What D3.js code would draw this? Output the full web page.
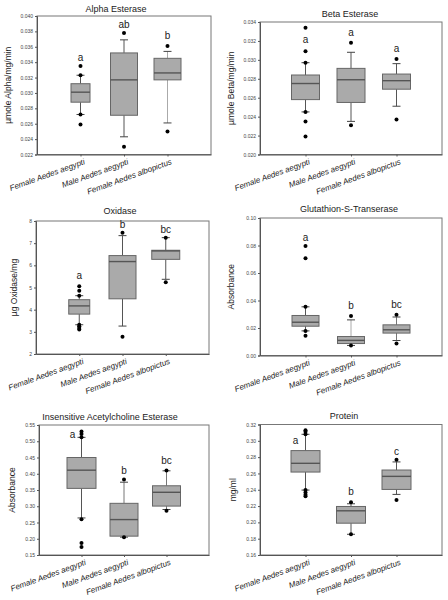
<!DOCTYPE html>
<html><head><meta charset="utf-8">
<script src="https://cdn.jsdelivr.net/npm/d3@7"></script>
<style>body{margin:0;background:#fff}svg{display:block}</style>
</head><body>
<svg id="c" width="448" height="600"></svg>
<script>
const categories = ["Female Aedes aegypti", "Male Aedes aegypti", "Female Aedes albopictus"];
const titles = ["Alpha Esterase", "Beta Esterase", "Oxidase", "Glutathion-S-Transerase", "Insensitive Acetylcholine Esterase", "Protein"];
const yLabels = ["µmole Alpha/mg/min", "µmole Beta/mg/min", "µg Oxidase/mg", "Absorbance", "Absorbance", "mg/ml"];

// y tick values per panel
const alphaTicks = [0.022, 0.024, 0.026, 0.028, 0.030, 0.032, 0.034, 0.036, 0.038, 0.040];
const betaTicks = [0.020, 0.022, 0.024, 0.026, 0.028, 0.030, 0.032, 0.034];
const oxidaseTicks = [2, 3, 4, 5, 6, 7, 8];
const gstTicks = [0.00, 0.02, 0.04, 0.06, 0.08, 0.10];
const acheTicks = [0.15, 0.20, 0.25, 0.30, 0.35, 0.40, 0.45, 0.50, 0.55];
const proteinTicks = [0.16, 0.18, 0.20, 0.22, 0.24, 0.26, 0.28, 0.30, 0.32];

// box stats: [lower whisker, Q1, median, Q3, upper whisker]
const alphaStats = [[0.0272, 0.0288, 0.0301, 0.0312, 0.0323], [0.0243, 0.0271, 0.0317, 0.0352, 0.0369], [0.0261, 0.0317, 0.0326, 0.0345, 0.0354]];
const alphaOutliers = [[0.0335, 0.0323, 0.0272, 0.0259], [0.0378, 0.0230], [0.0361, 0.0250]];
const alphaLetters = ["a", "ab", "b"];
const alphaLetterY = [0.0341, 0.0384, 0.0370];

const betaStats = [[0.0245, 0.0258, 0.0275, 0.0284, 0.0297], [0.0235, 0.0255, 0.0279, 0.0291, 0.0308], [0.0251, 0.0269, 0.0278, 0.0285, 0.0296]];
const betaOutliers = [[0.0334, 0.0309, 0.0297, 0.0245, 0.0235, 0.0219], [0.0318, 0.0231], [0.0301, 0.0237]];
const betaLetters = ["a", "a", "a"];
const betaLetterY = [0.0318, 0.0325, 0.0308];

const oxidaseStats = [[3.32, 3.80, 4.17, 4.45, 4.63], [3.26, 4.49, 6.17, 6.44, 7.34], [5.37, 6.27, 6.65, 6.68, 7.25]];
const oxidaseOutliers = [[5.06, 4.85, 4.63, 3.32, 3.25, 3.17, 3.10], [7.47, 2.78], [7.25, 5.24]];
const oxidaseLetters = ["a", "b", "bc"];
const oxidaseLetterY = [5.39, 7.67, 7.45];

const gstStats = [[0.0179, 0.0213, 0.0242, 0.0291, 0.0354], [0.0073, 0.0087, 0.0110, 0.0138, 0.0259], [0.0109, 0.0163, 0.0187, 0.0223, 0.0280]];
const gstOutliers = [[0.0797, 0.0707, 0.0354, 0.0179, 0.0143], [0.0288, 0.0073], [0.0296, 0.0087]];
const gstLetters = ["a", "b", "bc"];
const gstLetterY = [0.0833, 0.0341, 0.0349];

const acheStats = [[0.264, 0.355, 0.411, 0.450, 0.512], [0.205, 0.208, 0.259, 0.309, 0.374], [0.290, 0.3005, 0.343, 0.363, 0.409]];
const acheOutliers = [[0.530, 0.522, 0.512, 0.260, 0.187, 0.175], [0.382, 0.205], [0.410, 0.286]];
const acheLetters = ["a", "b", "bc"];
const acheLetterY = [0.509, 0.3985, 0.429];

const proteinStats = [[0.2396, 0.2617, 0.2724, 0.288, 0.308], [0.1854, 0.199, 0.2142, 0.2195, 0.2228], [0.2343, 0.2404, 0.2564, 0.2642, 0.2741]];
const proteinOutliers = [[0.313, 0.311, 0.308, 0.2396, 0.2367, 0.234, 0.232], [0.2248, 0.1854], [0.2769, 0.2273]];
const proteinLetters = ["a", "b", "c"];
const proteinLetterY = [0.2966, 0.2334, 0.283];

const panels = [
  {stats: alphaStats, out: alphaOutliers, letters: alphaLetters, letterY: alphaLetterY, ticks: alphaTicks, fmt: ".3f"},
  {stats: betaStats, out: betaOutliers, letters: betaLetters, letterY: betaLetterY, ticks: betaTicks, fmt: ".3f"},
  {stats: oxidaseStats, out: oxidaseOutliers, letters: oxidaseLetters, letterY: oxidaseLetterY, ticks: oxidaseTicks, fmt: "d"},
  {stats: gstStats, out: gstOutliers, letters: gstLetters, letterY: gstLetterY, ticks: gstTicks, fmt: ".2f"},
  {stats: acheStats, out: acheOutliers, letters: acheLetters, letterY: acheLetterY, ticks: acheTicks, fmt: ".2f"},
  {stats: proteinStats, out: proteinOutliers, letters: proteinLetters, letterY: proteinLetterY, ticks: proteinTicks, fmt: ".2f"}
];

// layout (pixels)
const layout = [
  {x0: 37, x1: 211, y0: 16, y1: 154.5, tx: 116, ty: 12, lx: 11, bw: [19, 27, 27], ldx: [0, 0, 0], wc: ["#555", "#555", "#aaa"]},
  {x0: 260, x1: 442, y0: 22, y1: 154.5, tx: 350, ty: 16.5, lx: 234, bw: [28, 28, 28], ldx: [0, 0, 0], wc: ["#555", "#555", "#555"]},
  {x0: 36, x1: 209, y0: 221, y1: 354, tx: 120, ty: 213.5, lx: 17, bw: [21, 27, 28], ldx: [0, 0, 0], wc: ["#555", "#555", "#555"]},
  {x0: 260, x1: 442, y0: 218, y1: 355.5, tx: 349, ty: 212, lx: 234, bw: [27, 27, 27], ldx: [0, 0, 0], wc: ["#555", "#aaa", "#777"]},
  {x0: 39, x1: 209, y0: 425, y1: 555, tx: 110, ty: 420, lx: 15, bw: [29, 28, 28], ldx: [-9, 0, 0], wc: ["#555", "#777", "#777"]},
  {x0: 260, x1: 442, y0: 424.5, y1: 555, tx: 344, ty: 418.5, lx: 236, bw: [29, 29, 29], ldx: [-10, 0, 0], wc: ["#555", "#555", "#555"]}
];

const svg = d3.select("#c");
const FONT = "'Liberation Sans', Arial, sans-serif";

panels.forEach((p, i) => {
  const L = layout[i];
  const g = svg.append("g");
  const x = d3.scaleLinear().domain([0, 4]).range([L.x0, L.x1]);
  const y = d3.scaleLinear().domain([p.ticks[0], p.ticks[p.ticks.length - 1]]).range([L.y1, L.y0]);

  // frame
  g.append("rect").attr("x", L.x0).attr("y", L.y0).attr("width", L.x1 - L.x0).attr("height", L.y1 - L.y0)
    .attr("fill", "none").attr("stroke", "#777").attr("stroke-width", 1);

  // y axis
  const ya = g.append("g").attr("transform", `translate(${L.x0},0)`)
    .call(d3.axisLeft(y).tickValues(p.ticks).tickFormat(d3.format(p.fmt)).tickSize(2).tickPadding(2));
  ya.select(".domain").attr("stroke", "#555");
  ya.selectAll(".tick line").attr("stroke", "#555");
  ya.selectAll("text").attr("font-family", FONT).attr("font-size", 5).attr("fill", "#444");

  // x axis
  const xa = g.append("g").attr("transform", `translate(0,${L.y1})`)
    .call(d3.axisBottom(x).tickValues([1, 2, 3]).tickFormat((d) => categories[d - 1]).tickSize(2).tickSizeOuter(0));
  xa.select(".domain").attr("stroke", "#555");
  xa.selectAll(".tick line").attr("stroke", "#555");
  xa.selectAll("text").attr("font-family", FONT).attr("font-size", 8).attr("font-style", "italic")
    .attr("fill", "#222").attr("text-anchor", "end")
    .attr("transform", "translate(2,3) rotate(-20)").attr("dy", "0.35em").attr("y", 4);

  // title
  g.append("text").attr("x", L.tx).attr("y", L.ty).attr("text-anchor", "middle")
    .attr("font-family", FONT).attr("font-size", 9).attr("fill", "#222").text(titles[i]);

  // y label
  g.append("text").attr("transform", `translate(${L.lx},${(L.y0 + L.y1) / 2}) rotate(-90)`)
    .attr("text-anchor", "middle").attr("font-family", FONT).attr("font-size", 8.5).attr("fill", "#222")
    .text(yLabels[i]);

  // boxes
  p.stats.forEach((s, j) => {
    const cx = x(j + 1), bw = L.bw[j], cap = 8;
    const bg = g.append("g");
    bg.append("line").attr("x1", cx).attr("x2", cx).attr("y1", y(s[0])).attr("y2", y(s[1])).attr("stroke", L.wc[j]);
    bg.append("line").attr("x1", cx).attr("x2", cx).attr("y1", y(s[3])).attr("y2", y(s[4])).attr("stroke", L.wc[j]);
    bg.append("line").attr("x1", cx - cap / 2).attr("x2", cx + cap / 2).attr("y1", y(s[0])).attr("y2", y(s[0])).attr("stroke", "#444");
    bg.append("line").attr("x1", cx - cap / 2).attr("x2", cx + cap / 2).attr("y1", y(s[4])).attr("y2", y(s[4])).attr("stroke", "#444");
    bg.append("rect").attr("x", cx - bw / 2).attr("y", y(s[3])).attr("width", bw).attr("height", y(s[1]) - y(s[3]))
      .attr("fill", "#aaaaaa").attr("stroke", "#666").attr("stroke-width", 1);
    bg.append("line").attr("x1", cx - bw / 2).attr("x2", cx + bw / 2).attr("y1", y(s[2])).attr("y2", y(s[2]))
      .attr("stroke", "#555").attr("stroke-width", 1.4);
    bg.selectAll("circle").data(p.out[j]).join("circle")
      .attr("cx", cx).attr("cy", (d) => y(d)).attr("r", 2).attr("fill", "#000");
    bg.append("text").attr("x", cx + L.ldx[j]).attr("y", y(p.letterY[j])).attr("text-anchor", "middle")
      .attr("font-family", FONT).attr("font-size", 10).attr("fill", "#222").text(p.letters[j]);
  });
});
</script>
</body></html>
